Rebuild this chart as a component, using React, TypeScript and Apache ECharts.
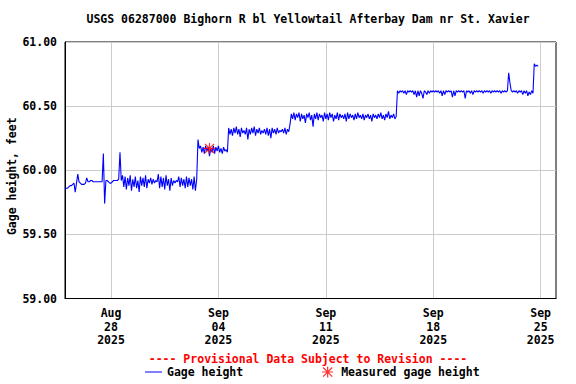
import React, { useEffect, useRef } from "react";
import * as echarts from "echarts";

const TITLE = "USGS 06287000 Bighorn R bl Yellowtail Afterbay Dam nr St. Xavier";
const Y_NAME = "Gage height, feet";
const PROVISIONAL = "---- Provisional Data Subject to Revision ----";
const SERIES_NAME = "Gage height";
const MEASURED_NAME = "Measured gage height";

// x values are hours since 2025-08-25 00:00
const X_MIN = 0;
const X_MAX = 768;
const tickHours = [72, 240, 408, 576, 744];
const tickMonths = ["Aug", "Sep", "Sep", "Sep", "Sep"];
const tickDays = ["28", "04", "11", "18", "25"];
const tickYears = ["2025", "2025", "2025", "2025", "2025"];

const Y_MIN = 59;
const Y_MAX = 61;
const Y_STEP = 0.5;

const stepHours = 2;

const stage1Start = 0;
const stage1 = [
  59.85, 59.86, 59.86, 59.87, 59.88, 59.88, 59.89, 59.9, 59.83, 59.9,
  59.97, 59.91, 59.9, 59.89, 59.89, 59.89, 59.9, 59.94, 59.91, 59.91,
  59.92, 59.92, 59.91, 59.91, 59.91, 59.91, 59.91, 59.91, 59.91, 59.91,
  60.13, 59.74, 59.92, 59.92, 59.91, 59.9, 59.9, 59.91, 59.92, 59.92,
  59.92, 59.92, 59.93, 60.14, 59.92,
  59.96, 59.87, 59.95, 59.85, 59.94, 59.88, 59.96, 59.84, 59.93, 59.87,
  59.95, 59.86, 59.92, 59.83, 59.95, 59.88, 59.94, 59.87, 59.96, 59.86,
  59.93, 59.9, 59.94, 59.89, 59.93, 59.9, 59.92, 59.91, 59.97, 59.86,
  59.95, 59.87, 59.94, 59.85, 59.96, 59.88, 59.93, 59.84, 59.94, 59.88,
  59.92, 59.9, 59.92, 59.91, 59.95, 59.87, 59.94, 59.88, 59.93, 59.86,
  59.95, 59.87, 59.94, 59.88, 59.93, 59.85, 59.95, 59.84, 59.93,
];

const stage2Start = 208;
const stage2 = [
  60.24, 60.17, 60.19, 60.14, 60.18, 60.13, 60.19, 60.15, 60.18, 60.11,
  60.17, 60.14, 60.19, 60.13, 60.18, 60.15, 60.19, 60.14, 60.17, 60.13,
  60.18, 60.15, 60.16, 60.14,
];

const stage3Start = 256;
const stage3 = [
  60.33, 60.28, 60.32, 60.27, 60.33, 60.29, 60.34, 60.28, 60.32, 60.26,
  60.33, 60.29, 60.31, 60.28, 60.33, 60.24, 60.32, 60.28, 60.33, 60.29,
  60.34, 60.27, 60.32, 60.29, 60.33, 60.28, 60.31, 60.29, 60.32, 60.28,
  60.33, 60.27, 60.32, 60.25, 60.33, 60.29, 60.32, 60.28, 60.33, 60.29,
  60.31, 60.3, 60.32, 60.29, 60.33, 60.28, 60.32, 60.3,
];

const stage4Start = 352;
const stage4 = [
  60.36, 60.44, 60.4, 60.45, 60.39, 60.44, 60.41, 60.45, 60.38, 60.44,
  60.4, 60.43, 60.37, 60.44, 60.41, 60.45, 60.39, 60.43, 60.34, 60.44,
  60.4, 60.45, 60.39, 60.44, 60.41, 60.43, 60.38, 60.45, 60.4, 60.44,
  60.39, 60.45, 60.41, 60.44, 60.38, 60.43, 60.4, 60.45, 60.39, 60.44,
  60.41, 60.43, 60.4, 60.44, 60.38, 60.45, 60.4, 60.44, 60.41, 60.43,
  60.39, 60.44, 60.4, 60.45, 60.41, 60.43, 60.4, 60.44, 60.39, 60.43,
  60.41, 60.44, 60.4, 60.43, 60.38, 60.44, 60.41, 60.43, 60.4, 60.44,
  60.41, 60.45, 60.4, 60.43, 60.39, 60.44, 60.41, 60.46, 60.4, 60.43,
  60.41, 60.44, 60.4, 60.42,
];

const stage5Start = 520;
const stage5 = [
  60.62, 60.6, 60.62, 60.61, 60.62, 60.6, 60.62, 60.59, 60.62, 60.61,
  60.62, 60.61, 60.62, 60.59, 60.62, 60.57, 60.62, 60.58, 60.62, 60.6,
  60.56, 60.62, 60.61, 60.59, 60.62, 60.6, 60.62, 60.61, 60.62, 60.61,
  60.62, 60.61, 60.62, 60.6, 60.62, 60.58, 60.62, 60.59, 60.62, 60.61,
  60.62, 60.61, 60.62, 60.57, 60.62, 60.58, 60.62, 60.61, 60.62, 60.61,
  60.62, 60.61, 60.62, 60.56, 60.62, 60.61, 60.62, 60.6, 60.62, 60.59,
  60.62, 60.61, 60.62, 60.61, 60.62, 60.61, 60.62, 60.6, 60.62, 60.61,
  60.62, 60.61, 60.62, 60.6, 60.62, 60.61, 60.62, 60.61, 60.62, 60.61,
  60.62, 60.6, 60.62, 60.61, 60.62, 60.61, 60.62, 60.76, 60.68, 60.62,
  60.61, 60.62, 60.61, 60.62, 60.6, 60.62, 60.61, 60.62, 60.59, 60.62,
  60.6, 60.62, 60.58, 60.61, 60.59, 60.62, 60.6,
];

const stage6Start = 734;
const stage6 = [60.83, 60.81, 60.82, 60.81];

const measuredHours = [226];
const measuredHeights = [60.17];

const FONT = "'DejaVu Sans Mono', monospace";
const FONT_SIZE = 11.5;
const ASTERISK =
  "path://M4.45 0H5.55V10H4.45Z M0 4.45H10V5.55H0Z M1.25 0.45L9.55 8.75L8.75 9.55L0.45 1.25Z M8.75 0.45L9.55 1.25L1.25 9.55L0.45 8.75Z";
const LINE_ICON = "path://M0 0H17V1H0Z";

function stagePoints(start: number, values: number[]) {
  return values.map((v, i) => [start + i * stepHours, v]);
}

export default function App() {
  const ref = useRef<HTMLDivElement>(null);

  useEffect(() => {
    document.body.style.margin = "0";
    if (!ref.current) return;
    const chart = echarts.init(ref.current, undefined, { renderer: "svg" });

    const lineData = [
      ...stagePoints(stage1Start, stage1),
      ...stagePoints(stage2Start, stage2),
      ...stagePoints(stage3Start, stage3),
      ...stagePoints(stage4Start, stage4),
      ...stagePoints(stage5Start, stage5),
      ...stagePoints(stage6Start, stage6),
    ];
    const measuredData = measuredHours.map((h, i) => [h, measuredHeights[i]]);

    const labelFor = (v: number) => {
      const i = tickHours.indexOf(v);
      if (i < 0) return "";
      return `${tickMonths[i]}\n${tickDays[i]}\n${tickYears[i]}`;
    };

    const textBase = {
      fontFamily: FONT,
      fontWeight: "bold" as const,
      fontSize: FONT_SIZE,
      color: "#000",
    };

    chart.setOption({
      animation: false,
      backgroundColor: "#fff",
      grid: {
        left: 65,
        right: 20,
        top: 42,
        bottom: 85.5,
        show: true,
        borderColor: "#000",
        borderWidth: 1,
        containLabel: false,
        outerBoundsMode: "none",
      },
      graphic: [
        {
          type: "text",
          x: 308,
          y: 19,
          style: {
            text: TITLE,
            fill: "#000",
            font: `bold ${FONT_SIZE}px ${FONT}`,
            textAlign: "center",
            textVerticalAlign: "middle",
          },
        },
        {
          type: "text",
          x: 308,
          y: 359,
          style: {
            text: PROVISIONAL,
            fill: "#ff0000",
            font: `bold ${FONT_SIZE}px ${FONT}`,
            textAlign: "center",
            textVerticalAlign: "middle",
          },
        },
      ],
      legend: {
        left: 145,
        top: 366,
        padding: 0,
        itemWidth: 17,
        itemHeight: 11,
        itemGap: 79,
        symbolKeepAspect: true,
        selectedMode: false,
        textStyle: { ...textBase },
        data: [{ name: SERIES_NAME, icon: LINE_ICON }, { name: MEASURED_NAME }],
      },
      xAxis: {
        type: "value",
        min: X_MIN,
        max: X_MAX,
        axisLine: { show: true, lineStyle: { color: "#000", width: 1 } },
        axisTick: { show: false, customValues: tickHours },
        splitLine: { show: true, lineStyle: { color: "#cccccc", width: 1 } },
        axisLabel: {
          customValues: tickHours,
          formatter: (v: number) => labelFor(v),
          ...textBase,
          lineHeight: 13.5,
          margin: 8,
        },
      },
      yAxis: {
        type: "value",
        min: Y_MIN,
        max: Y_MAX,
        interval: Y_STEP,
        name: Y_NAME,
        nameLocation: "middle",
        nameRotate: 90,
        nameGap: 47,
        nameMoveOverlap: false,
        nameTextStyle: { ...textBase, padding: [0, 12, 0, 0] },
        axisLine: { show: true, lineStyle: { color: "#000", width: 1 } },
        axisTick: { show: false },
        splitLine: { show: true, lineStyle: { color: "#cccccc", width: 1 } },
        axisLabel: {
          formatter: (v: number) => v.toFixed(2),
          ...textBase,
          margin: 8,
        },
      },
      series: [
        {
          name: SERIES_NAME,
          type: "line",
          data: lineData,
          symbol: "none",
          showSymbol: false,
          lineStyle: { color: "#0000ff", width: 1.1 },
          itemStyle: { color: "#0000ff" },
          z: 2,
        },
        {
          name: MEASURED_NAME,
          type: "scatter",
          data: measuredData,
          symbol: ASTERISK,
          symbolSize: 11,
          symbolKeepAspect: true,
          itemStyle: { color: "#ff0000" },
          z: 3,
        },
      ],
    });

    return () => chart.dispose();
  }, []);

  return <div ref={ref} style={{ width: 576, height: 384 }} />;
}
